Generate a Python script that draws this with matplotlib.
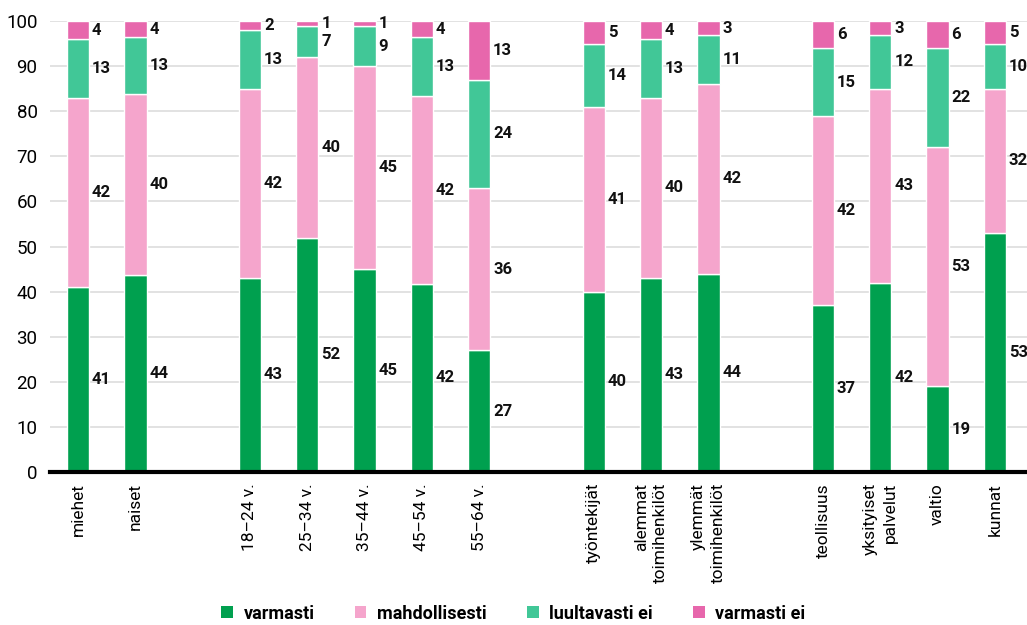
import matplotlib
matplotlib.use("Agg")
import matplotlib.pyplot as plt
from matplotlib.patches import Patch

plt.rcParams['font.family'] = ['Roboto', 'DejaVu Sans']

categories = ["miehet", "naiset",
              "18\u201324 v.", "25\u201334 v.", "35\u201344 v.", "45\u201354 v.", "55\u201364 v.",
              "työntekijät", "alemmat\ntoimihenkilöt", "ylemmät\ntoimihenkilöt",
              "teollisuus", "yksityiset\npalvelut", "valtio", "kunnat"]
groups = [0, 0, 1, 1, 1, 1, 1, 2, 2, 2, 3, 3, 3, 3]

series_names = ["varmasti", "mahdollisesti", "luultavasti ei", "varmasti ei"]
varmasti = [41, 43.6, 43, 52, 45, 41.7, 27, 40, 43, 44, 37, 42, 19, 53]
mahdollisesti = [42, 40.2, 42, 40, 45, 41.7, 36, 41, 40, 42, 42, 43, 53, 32]
luultavasti_ei = [13, 12.6, 13, 7, 9, 13.0, 24, 14, 13, 11, 15, 12, 22, 10]
varmasti_ei = [4, 3.6, 2, 1, 1, 3.6, 13, 5, 4, 3, 6, 3, 6, 5]
series = [varmasti, mahdollisesti, luultavasti_ei, varmasti_ei]
colors = ["#00A04F", "#F5A5CC", "#41C797", "#E767AC"]

yticks = list(range(0, 101, 10))

fig = plt.figure(figsize=(10.27, 6.25), dpi=100)
ax = fig.add_axes([0.0487, 0.245, 0.9513, 0.721])

x = [i + g for i, g in enumerate(groups)]
width = 0.39
bottom = [0.0] * len(x)
for vals, col in zip(series, colors):
    ax.bar(x, vals, width, bottom=bottom, color=col, edgecolor="white", linewidth=1.0, zorder=3)
    for xi, b, v in zip(x, bottom, vals):
        ax.annotate(f"{v:.0f}", xy=(xi + width / 2, b + v / 2), xytext=(2, 0),
                    textcoords="offset points", ha="left", va="center",
                    fontsize=12, fontweight="bold", color="#111111", zorder=4)
    bottom = [b + v for b, v in zip(bottom, vals)]

ax.set_ylim(0, 100)
ax.set_xlim(-0.49, max(x) + 0.56)
ax.set_yticks(yticks)
ax.set_yticklabels([str(t) for t in yticks], fontsize=13.5)
ax.tick_params(axis="y", length=0, pad=9)
ax.set_xticks(x)
ax.set_xticklabels(categories, rotation=90, fontsize=12.5, ha="center", va="top",
                   multialignment="right", linespacing=1.35)
ax.tick_params(axis="x", length=0, pad=8)
ax.grid(axis="y", color="#DDDDDD", linewidth=1.2, zorder=0)
for s in ["left", "right", "top"]:
    ax.spines[s].set_visible(False)
ax.spines["bottom"].set_linewidth(3)
ax.spines["bottom"].set_color("black")
ax.spines["bottom"].set_zorder(5)

handles = [Patch(facecolor=c, edgecolor="none") for c in colors]
fig.legend(handles, series_names, loc="center", bbox_to_anchor=(0.5, 0.018), ncol=4,
           frameon=False, prop={"size": 13, "weight": "bold"},
           handlelength=0.65, handleheight=0.65, handletextpad=0.6, columnspacing=2.2)

fig.savefig("out.png", dpi=100)
